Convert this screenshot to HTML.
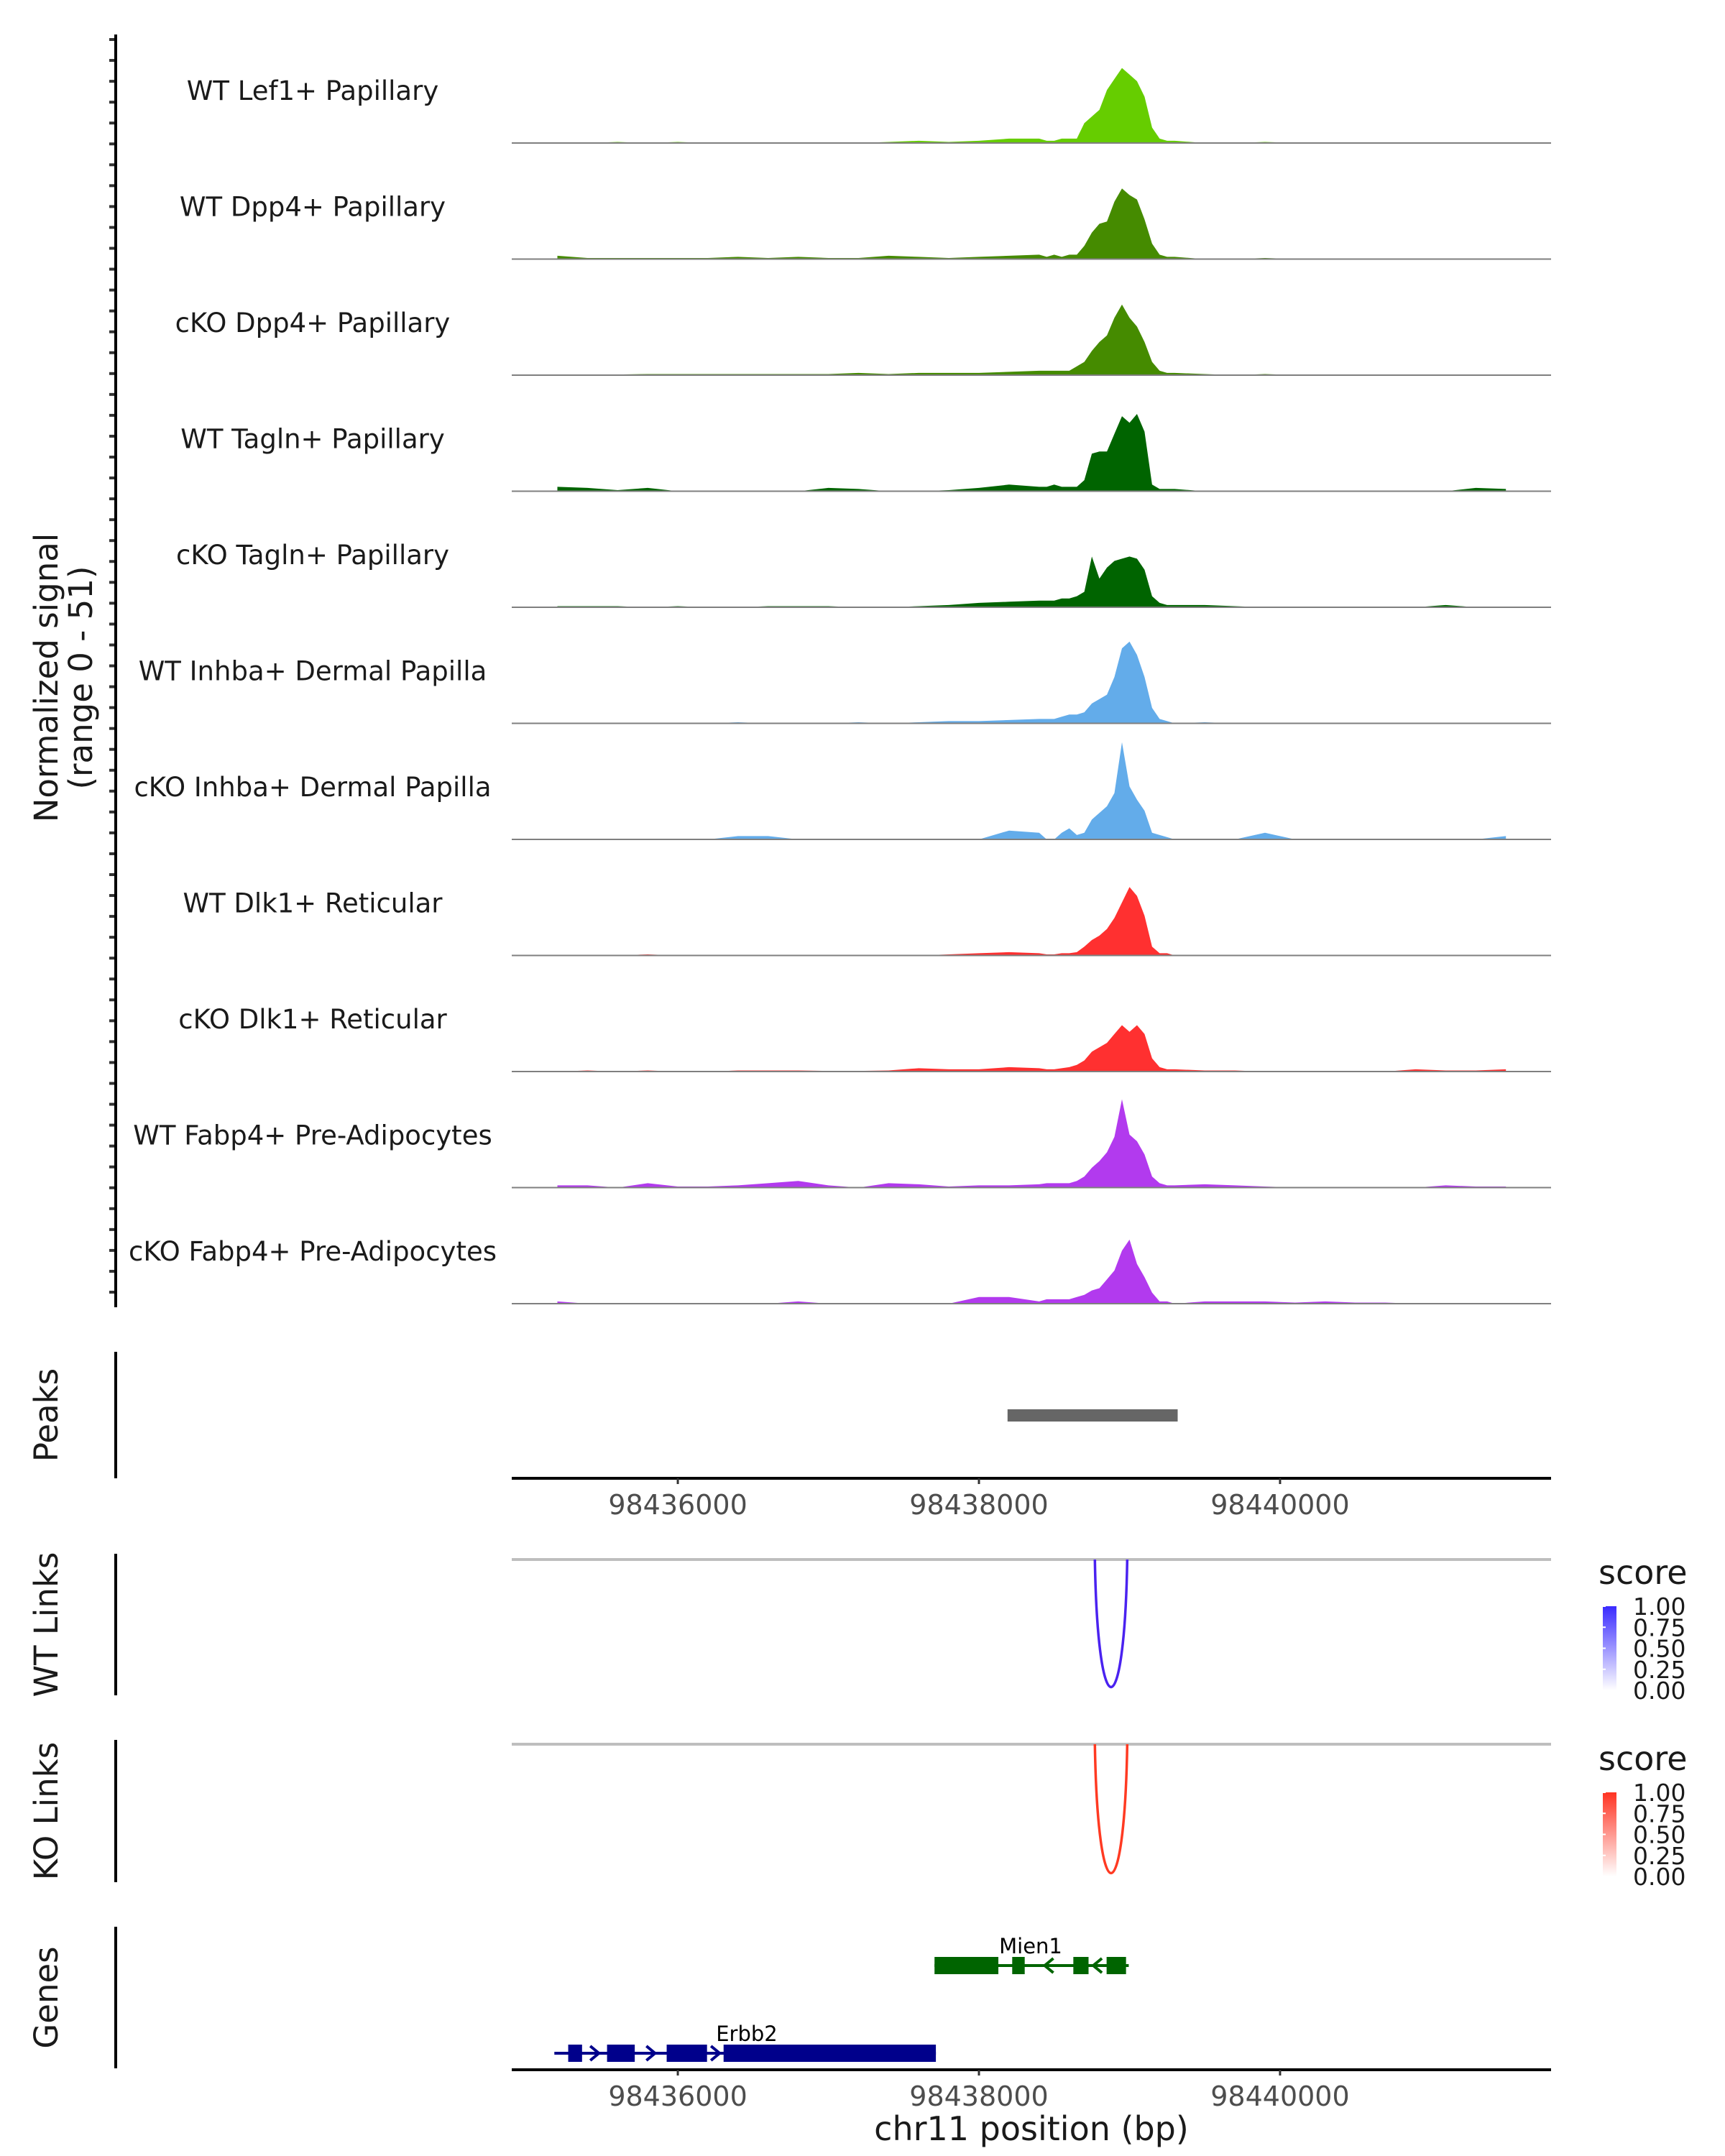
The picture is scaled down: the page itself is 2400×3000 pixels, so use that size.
<!DOCTYPE html>
<html><head><meta charset="utf-8"><style>
html,body{margin:0;padding:0;background:#fff;}
svg{display:block;font-family:"DejaVu Sans","Liberation Sans",sans-serif;}
</style></head><body>
<svg id="chart" width="2400" height="3000" viewBox="0 0 2400 3000" xmlns="http://www.w3.org/2000/svg">
<defs>
<linearGradient id="gblue" x1="0" y1="1" x2="0" y2="0"><stop offset="0" stop-color="#ffffff"/><stop offset="1" stop-color="#3a2bff"/></linearGradient>
<linearGradient id="gred" x1="0" y1="1" x2="0" y2="0"><stop offset="0" stop-color="#ffffff"/><stop offset="1" stop-color="#ff3322"/></linearGradient>
</defs>
<g id="tracks"></g>
<text transform="translate(80,943) rotate(-90)" text-anchor="middle" font-size="45" fill="#1a1a1a">Normalized signal</text>
<text transform="translate(128,943) rotate(-90)" text-anchor="middle" font-size="45" fill="#1a1a1a">(range 0 - 51)</text>
<g id="peaks"></g>
<g id="links"></g>
<g id="genes"></g>
</svg>
<script>
const positions = [98435200,98435400,98435600,98435800,98436000,98436200,98436400,98436600,98436800,98437000,98437200,98437400,98437600,98437800,98438000,98438200,98438400,
98438450,98438500,98438550,98438600,98438650,98438700,98438750,98438800,98438850,98438900,98438950,98439000,98439050,98439100,98439150,98439200,98439250,98439300,
98439500,98439700,98439900,98440100,98440300,98440500,98440700,98440900,98441100,98441300,98441500];
const trackNames = ["WT Lef1+ Papillary","WT Dpp4+ Papillary","cKO Dpp4+ Papillary","WT Tagln+ Papillary","cKO Tagln+ Papillary","WT Inhba+ Dermal Papilla","cKO Inhba+ Dermal Papilla","WT Dlk1+ Reticular","cKO Dlk1+ Reticular","WT Fabp4+ Pre-Adipocytes","cKO Fabp4+ Pre-Adipocytes"];
const trackColors = ["#66cd00","#458b00","#458b00","#006400","#006400","#63acea","#63acea","#ff3030","#ff3030","#b23aee","#b23aee"];
const lef1WT = [0,0,0.5,0,0.5,0,0,0,0,0,0,0.5,1,0.5,1,2,2, 1,1,2,2,2,9,12,15,24,29,34,31,28,21,7,2,1,1, 0,0,0.5,0,0,0,0,0,0,0,0];
const dpp4WT = [1.5,0.5,0.5,0.5,0.5,0.5,1,0.5,1,0.5,0.5,1.5,1,0.5,1,1.5,2, 1,2,1,2,2,6,12,16,17,26,32,29,27,18,7,2,1,1, 0,0,0.5,0,0,0,0,0,0,0,0];
const dpp4KO = [0,0,0.3,0.5,0.5,0.5,0.5,0.5,0.5,0.5,1,0.5,1,1,1,1.5,2, 2,2,2,2,4,6,11,15,18,26,32,26,22,15,6,2,1,1, 0.5,0,0.5,0,0,0,0,0.3,0,0,0];
const taglnWT = [2,1.5,0.5,1.5,0,0,0,0,0,1.5,1,0,0,0.5,1.5,3,2, 2,3,2,2,2,5,17,18,18,26,34,31,35,27,3,1,1,1, 0,0,0,0,0,0,0,0,0,1.5,1];
const taglnKO = [0.5,0.5,0.5,0,0.5,0,0,0.5,0.5,0.5,0,0,0.5,1,2,2.5,3, 3,3,4,4,5,7,23,13,18,21,22,23,22,17,5,2,1,1, 1,0.5,0,0,0,0,0,0,1,0,0.3];
const inhbaWT = [0,0,0,0,0,0,0.5,0,0,0,0.5,0,0.5,1,1,1.5,2, 2,2,3,4,4,5,9,11,13,21,34,37,31,21,7,2,1,0, 0.5,0,0,0,0,0,0,0,0,0,0.3];
const inhbaKO = [0,0,0,0,0,0,1.5,1.5,0,0,0,0,0,0,0,4,3, 0,0,3,5,2,3,9,12,15,21,44,24,18,13,3,2,1,0, 0,0,3,0,0,0,0,0,0,0,1.5];
const dlk1WT = [0,0,0,0.5,0,0,0,0,0,0,0,0,0,0.5,1,1.5,1, 0.5,0.5,1,1,1.5,4,7,9,12,17,24,31,27,18,4,1,1,0, 0,0,0,0,0,0,0,0,0,0,0];
const dlk1KO = [0,0.5,0,0.5,0,0,0.5,0.5,0.5,0.3,0.3,0.5,1.5,1,1,2,1.5, 1,1,1.5,2,3,5,9,11,13,17,21,18,21,17,6,2,1,1, 0.5,0.5,0,0,0,0,0,1,0.5,0.5,1];
const fabp4WT = [1,1,0,2,0.5,0.5,1,2,3,1,0,2,1.5,0.5,1,1,1.5, 2,2,2,2,3,5,9,12,16,23,40,24,21,15,5,2,1,1, 1.5,1,0.5,0,0,0,0,0,1,0.5,0.5];
const fabp4KO = [1,0,0,0,0,0,0,0,1,0,0,0,0,0,3,3,1, 2,2,2,2,3,4,6,7,11,15,24,29,18,12,5,1,1,0, 1,1,1,0.5,1,0.5,0.5,0,0,0,0];
const trackValues = [lef1WT,dpp4WT,dpp4KO,taglnWT,taglnKO,inhbaWT,inhbaKO,dlk1WT,dlk1KO,fabp4WT,fabp4KO];
const yMax = 51;
const xTicks = [98436000,98438000,98440000];
const peakRanges = [[98438190,98439320]];
const linkStarts = [98438770];
const linkEnds = [98438985];
const linkScoresWT = [1.0];
const linkScoresKO = [1.0];
const legendTicks = ["1.00","0.75","0.50","0.25","0.00"];
const mien1Exons = [[98437705,98438129],[98438221,98438304],[98438627,98438728],[98438848,98438977]];
const mien1Span = [98437705,98438995];
const erbb2Exons = [[98435272,98435364],[98435530,98435714],[98435926,98436194],[98436304,98437714]];
const erbb2Span = [98435180,98437714];

const NS = "http://www.w3.org/2000/svg";
const X0 = 712, X1 = 2158, BP0 = 98434897, BP1 = 98441800;
function xs(bp){ return X0 + (bp - BP0) / (BP1 - BP0) * (X1 - X0); }
const trackH = 161.5, firstBase = 199;
function base(i){ return firstBase + i * trackH; }
function ys(v, i){ return base(i) - v / yMax * (trackH * 0.97); }
function mk(tag, attrs, parent){ const e = document.createElementNS(NS, tag); for (const k in attrs) e.setAttribute(k, attrs[k]); parent.appendChild(e); return e; }

const tracks = document.getElementById('tracks');
const axis = mk('line', {x1:161,y1:48,x2:161,y2:1819,stroke:'#000','stroke-width':4}, tracks);


for (let y = 55; y < 1819; y += 29.05) {
  const t = mk('line', {x1:152,y1:y,x2:159,y2:y,stroke:'#333','stroke-width':4}, tracks);
  
  
}
trackValues.forEach((vals, i) => {
  const g = mk('g', {}, tracks);
  
  
  let d = 'M' + xs(positions[0]) + ',' + base(i);
  vals.forEach((v, j) => { d += ' L' + xs(positions[j]).toFixed(1) + ',' + ys(v, i).toFixed(1); });
  d += ' L' + xs(positions[positions.length - 1]) + ',' + base(i) + ' Z';
  const p = mk('path', {d:d, fill:trackColors[i], stroke:'none'}, g);
  
  
  const bl = mk('line', {x1:X0,y1:base(i),x2:X1,y2:base(i),stroke:'#7f7f7f','stroke-width':2}, g);
  
  
  const t = mk('text', {x:435,y:base(i) - 60,'text-anchor':'middle','font-size':37,fill:'#1a1a1a'}, g);
  t.textContent = trackNames[i];
  
  
});

function sideLabel(parent, text, y1, y2, name){
  const l = mk('line', {x1:161,y1:y1,x2:161,y2:y2,stroke:'#000','stroke-width':4}, parent);
  
  
  const t = mk('text', {transform:'translate(80,' + ((y1 + y2) / 2) + ') rotate(-90)','text-anchor':'middle','font-size':45,fill:'#1a1a1a'}, parent);
  t.textContent = text;
  
  
}
function xAxis(parent, y, name){
  const l = mk('line', {x1:X0,y1:y,x2:X1,y2:y,stroke:'#000','stroke-width':4}, parent);
  
  
  xTicks.forEach(v => {
    const tk = mk('line', {x1:xs(v),y1:y,x2:xs(v),y2:y + 8,stroke:'#333','stroke-width':3}, parent);
    
    
    const tl = mk('text', {x:xs(v),y:y + 50,'text-anchor':'middle','font-size':38,fill:'#4d4d4d'}, parent);
    tl.textContent = v;
    
    
  });
}

const peaks = document.getElementById('peaks');
sideLabel(peaks, 'Peaks', 1881, 2057, 'peaks');
peakRanges.forEach(r => {
  const b = mk('rect', {x:xs(r[0]),y:1961,width:xs(r[1]) - xs(r[0]),height:17,fill:'#666666'}, peaks);
  
  
});
xAxis(peaks, 2057, 'peaks-x-axis');

const links = document.getElementById('links');
function linkTrack(label, y1, y2, lineY, bottomY, starts, ends, scores, color, grad, name){
  sideLabel(links, label, y1, y2, name);
  const gl = mk('line', {x1:X0,y1:lineY,x2:X1,y2:lineY,stroke:'#bebebe','stroke-width':4}, links);
  
  
  starts.forEach((s, k) => {
    const a = xs(s), b = xs(ends[k]);
    const depth = (bottomY - lineY) * scores[k];
    const d = 'M' + a + ',' + lineY + ' C' + (a + 4) + ',' + (lineY + depth * 1.3) + ' ' + (b - 4) + ',' + (lineY + depth * 1.3) + ' ' + b + ',' + lineY;
    const p = mk('path', {d:d,fill:'none',stroke:color,'stroke-width':3.5}, links);
    
    
  });
  const lg = mk('g', {}, links);
  
  
  const lt = mk('text', {x:2224,y:y1 + 42,'font-size':46,fill:'#1a1a1a'}, lg);
  lt.textContent = 'score';
  
  
  const top = y1 + 73, h = 117;
  const cb = mk('rect', {x:2230,y:top,width:19,height:h,fill:'url(#' + grad + ')'}, lg);
  
  
  legendTicks.forEach((s, k) => {
    const yy = top + k * h / 4;
    const tk = mk('line', {x1:2230,y1:yy,x2:2234,y2:yy,stroke:'#fff','stroke-width':2}, lg);
    
    
    const tx = mk('text', {x:2272,y:yy + 12,'font-size':33,fill:'#1a1a1a'}, lg);
    tx.textContent = s;
    
    
  });
}
linkTrack('WT Links', 2162, 2359, 2170, 2352, linkStarts, linkEnds, linkScoresWT, '#4a22f0', 'gblue', 'wt-links');
linkTrack('KO Links', 2421, 2619, 2427, 2611, linkStarts, linkEnds, linkScoresKO, '#ff3a22', 'gred', 'ko-links');

const genes = document.getElementById('genes');
sideLabel(genes, 'Genes', 2681, 2878, 'genes');
function gene(name, span, exons, y, color, dir, labelX){
  const g = mk('g', {}, genes);
  
  
  const l = mk('line', {x1:xs(span[0]),y1:y,x2:xs(span[1]),y2:y,stroke:color,'stroke-width':4}, g);
  
  
  exons.forEach(e => {
    const r = mk('rect', {x:xs(e[0]),y:y - 12,width:xs(e[1]) - xs(e[0]),height:24,fill:color}, g);
    
    
  });
  for (let k = 0; k < exons.length - 1; k++) {
    const a = xs(exons[k][1]), b = xs(exons[k + 1][0]);
    if (b - a < 20) continue;
    const m = (a + b) / 2;
    const d = dir > 0 ? 'M' + (m - 6) + ',' + (y - 10) + ' L' + (m + 6) + ',' + y + ' L' + (m - 6) + ',' + (y + 10)
                      : 'M' + (m + 6) + ',' + (y - 10) + ' L' + (m - 6) + ',' + y + ' L' + (m + 6) + ',' + (y + 10);
    const ar = mk('path', {d:d,fill:'none',stroke:color,'stroke-width':4}, g);
    
    
  }
  const t = mk('text', {x:labelX,y:y - 17,'text-anchor':'middle','font-size':29,fill:'#000'}, g);
  t.textContent = name;
  
  
}
gene('Mien1', mien1Span, mien1Exons, 2735, '#006400', -1, 1434);
gene('Erbb2', erbb2Span, erbb2Exons, 2857, '#00008b', 1, 1039);
xAxis(genes, 2880, 'genes-x-axis');
const xt = mk('text', {x:1435,y:2978,'text-anchor':'middle','font-size':46,fill:'#1a1a1a'}, genes);
xt.textContent = 'chr11 position (bp)';


</script>
</body></html>
